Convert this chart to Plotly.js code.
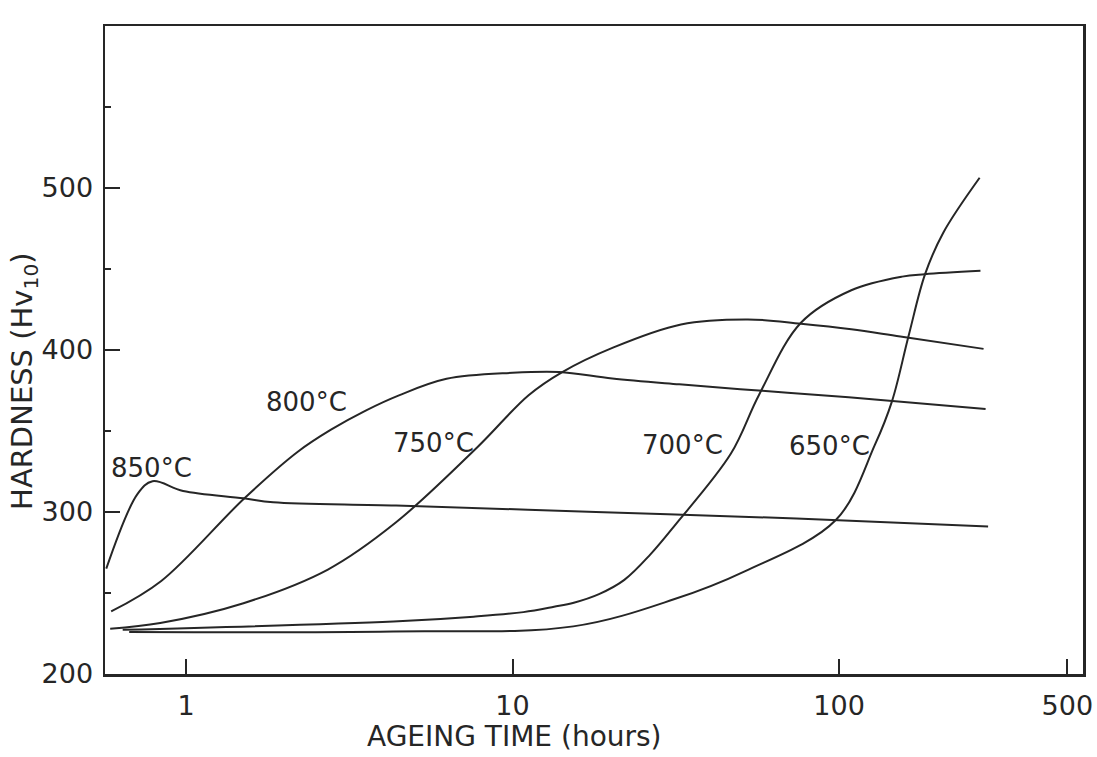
<!DOCTYPE html>
<html>
<head>
<meta charset="utf-8">
<script src="https://cdn.plot.ly/plotly-3.0.1.min.js"></script>
<style>
  html, body { margin: 0; padding: 0; background: #ffffff; }
  #chart { width: 1097px; height: 757px; }
</style>
</head>
<body>
<div id="chart"></div>
<script>
// Ageing time (hours) and hardness (Hv10)
const t850 = [0.57, 0.71, 0.79, 0.98, 1.5, 1.85, 4.4, 18, 74, 286];
const h850 = [265, 311, 319, 313, 308.5, 306, 304, 300, 296, 291];

const t800 = [0.59, 0.84, 1.51, 2.2, 2.78, 3.55, 4.49, 6.28, 10, 13.9, 20.2, 32.4, 58.2, 107, 281];
const h800 = [238.6, 257.4, 308.5, 337.2, 350.8, 362.6, 372, 382.2, 385.9, 386.4, 382.4, 378.8, 374.8, 370.9, 363.6];

const t750 = [0.586, 0.834, 1.5, 2.72, 4.39, 7.83, 11.2, 14.2, 20.3, 32.8, 52.6, 76.4, 109, 154, 277];
const h750 = [228, 231.5, 243.7, 264.5, 293.5, 340.3, 372.1, 386.4, 401.5, 415.8, 418.9, 416.2, 412.8, 408.3, 400.7];

const t700 = [0.64, 4.32, 7.6, 10.8, 13.4, 15.4, 18.4, 22, 26.4, 31.6, 46.6, 56.9, 76.4, 109, 156, 183, 271];
const h700 = [227.3, 232.4, 235.4, 238.2, 241.5, 244, 249.3, 258.1, 273.7, 292.4, 335.9, 372.4, 416.8, 436.9, 445.3, 446.8, 448.9];

const t650 = [0.67, 4.31, 15.35, 31.2, 51.4, 97.9, 128.7, 145.2, 163.3, 183.4, 208.5, 269.4];
const h650 = [226, 226.3, 229.4, 246.1, 263.4, 295.2, 341.4, 368.3, 408.8, 446.8, 472.4, 506.3];

const seriesNames = ['850°C', '800°C', '750°C', '700°C', '650°C'];
const labelTimes = [0.782, 2.34, 5.74, 33.2, 93.7];
const labelHardness = [327.3, 368, 342.9, 341.6, 341];

const xTickVals = [1, 10, 100, 500];
const xTickText = ['1', '10', '100', '500'];
const yTickVals = [200, 300, 400, 500];
const yTickText = ['200', '300', '400', '500'];
const yMinorVals = [250, 350, 450, 550];

const xTitle = 'AGEING TIME (hours)';
const yTitle = 'HARDNESS (Hv<sub>10</sub>)';

const ink = '#262626';
const font = 'DejaVu Sans, Arial, sans-serif';

const allT = [t850, t800, t750, t700, t650];
const allH = [h850, h800, h750, h700, h650];

const traces = allT.map((t, i) => ({
  x: t, y: allH[i], type: 'scatter', mode: 'lines', name: seriesNames[i],
  line: { color: ink, width: 2, shape: 'spline', smoothing: 1 },
  hoverinfo: 'skip'
}));

const annotations = seriesNames.map((n, i) => ({
  x: Math.log10(labelTimes[i]), y: labelHardness[i], xref: 'x', yref: 'y',
  text: n, showarrow: false, font: { family: font, size: 26, color: ink },
  xanchor: 'center', yanchor: 'middle'
}));

// axis titles placed as in the reference
annotations.push({
  x: 0.419, y: -0.097, xref: 'paper', yref: 'paper', text: xTitle, showarrow: false,
  font: { family: font, size: 28, color: ink }, xanchor: 'center', yanchor: 'middle'
});
annotations.push({
  x: -0.083, y: 0.452, xref: 'paper', yref: 'paper', text: yTitle, showarrow: false,
  textangle: -90, font: { family: font, size: 29, color: ink }, xanchor: 'center', yanchor: 'middle'
});

const layout = {
  width: 1097, height: 757,
  margin: { l: 105, r: 14, t: 26, b: 83 },
  paper_bgcolor: '#ffffff', plot_bgcolor: '#ffffff',
  showlegend: false,
  font: { family: font, color: ink },
  xaxis: {
    type: 'log', range: [-0.248, 2.747],
    tickvals: xTickVals, ticktext: xTickText,
    ticks: 'inside', ticklen: 15, tickwidth: 2, tickcolor: ink,
    showline: true, mirror: true, linecolor: ink, linewidth: 2.5,
    showgrid: false, zeroline: false,
    tickfont: { family: font, size: 27, color: ink },
    ticklabelstandoff: 6,
    automargin: false
  },
  yaxis: {
    range: [200, 600],
    tickvals: yTickVals, ticktext: yTickText,
    ticks: 'inside', ticklen: 15, tickwidth: 2, tickcolor: ink,
    minor: { tickvals: yMinorVals, ticks: 'inside', ticklen: 6, tickwidth: 1.5, tickcolor: ink, showgrid: false },
    showline: true, mirror: true, linecolor: ink, linewidth: 2.5,
    showgrid: false, zeroline: false,
    tickfont: { family: font, size: 27, color: ink },
    ticklabelstandoff: 4,
    automargin: false
  },
  annotations: annotations
};

Plotly.newPlot('chart', traces, layout, { staticPlot: true, displayModeBar: false });
</script>
</body>
</html>
